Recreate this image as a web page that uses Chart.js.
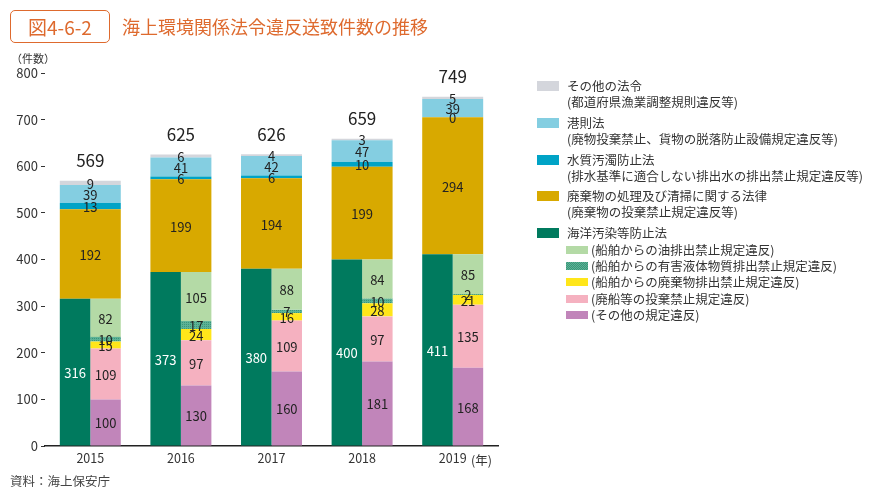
<!DOCTYPE html>
<html lang="ja">
<head>
<meta charset="utf-8">
<script src="https://cdn.jsdelivr.net/npm/chart.js@4/dist/chart.umd.min.js"></script>
<style>
  body { margin: 0; background: #fff; font-family: "Noto Sans CJK JP", "Noto Sans", sans-serif; color: #333; }
  #wrap { position: relative; width: 871px; height: 496px; overflow: hidden; }
  #chart { position: absolute; left: 0; top: 0; }
  .abs { position: absolute; white-space: nowrap; }
  #figBox { left: 10px; top: 10px; width: 98px; height: 31px; border: 1.5px solid #DE6A2E; border-radius: 5px;
    color: #DE6A2E; font-size: 19px; line-height: 31px; text-align: center; }
  #title { left: 122px; top: 14px; color: #DE6A2E; font-size: 18px; line-height: 24px; }
  #unit { left: 11px; top: 50px; font-size: 11px; color: #333; }
  #yearUnit { left: 471px; top: 450px; font-size: 12.5px; color: #333; }
  #source { left: 10px; top: 471px; font-size: 12.5px; color: #444; }
  .lg { position: absolute; font-size: 12.5px; line-height: 16px; color: #333; white-space: nowrap; }
  .sw { position: absolute; }
</style>
</head>
<body>
<div id="wrap">
  <canvas id="chart" width="871" height="496"></canvas>
  <div class="abs" id="figBox">図4-6-2</div>
  <div class="abs" id="title">海上環境関係法令違反送致件数の推移</div>
  <div class="abs" id="unit">（件数）</div>
  <div class="abs" id="yearUnit">(年)</div>
  <div class="abs" id="source">資料：海上保安庁</div>
  <div id="legend"></div>
</div>
<script>
// 年
const years = ["2015", "2016", "2017", "2018", "2019"];

// 法令別（左の積み上げ）
const marinePollution = [316, 373, 380, 400, 411]; // 海洋汚染等防止法
const wasteLaw = [192, 199, 194, 199, 294];        // 廃棄物の処理及び清掃に関する法律
const waterPollution = [13, 6, 6, 10, 0];          // 水質汚濁防止法
const portLaw = [39, 41, 42, 47, 39];              // 港則法
const otherLaws = [9, 6, 4, 3, 5];                 // その他の法令

// 海洋汚染等防止法の内訳（右の積み上げ）
const otherRules = [100, 130, 160, 181, 168];      // その他の規定違反
const shipDumping = [109, 97, 109, 97, 135];       // 廃船等の投棄禁止規定違反
const wasteDischarge = [15, 24, 16, 28, 21];       // 廃棄物排出禁止規定違反
const noxiousLiquid = [10, 17, 7, 10, 2];          // 有害液体物質排出禁止規定違反
const oilDischarge = [82, 105, 88, 84, 85];        // 油排出禁止規定違反

// 合計
const totals = [569, 625, 626, 659, 749];

const yTicks = [0, 100, 200, 300, 400, 500, 600, 700, 800];

const FONT = '"Noto Sans CJK JP", "Noto Sans", sans-serif';

//colours
const cGreen = "#007A5E";
const cGold = "#D8A900";
const cTeal = "#00A3C6";
const cLightBlue = "#84CEE1";
const cGray = "#D4D6DC";
const cOil = "#B4DAA6";
const cYellow = "#FFE61A";
const cPink = "#F5B1C0";
const cPurple = "#C185BA";

//hatched pattern for 有害液体物質
function makeHatch() {
  const c = document.createElement("canvas");
  c.width = 4;
  c.height = 4;
  const g = c.getContext("2d");
  g.fillStyle = "#5DB296";
  g.fillRect(0, 0, 4, 4);
  g.fillStyle = "#3A967A";
  g.fillRect(0, 0, 1, 1);
  g.fillRect(2, 2, 1, 1);
  g.fillRect(2, 0, 1, 1);
  g.fillRect(0, 2, 1, 1);
  return g.createPattern(c, "repeat");
}
const hatch = makeHatch();

//legend (html)
const legendItems = [
  { color: cGray, lines: ["その他の法令", "(都道府県漁業調整規則違反等)"], x: 537, y: 78 },
  { color: cLightBlue, lines: ["港則法", "(廃物投棄禁止、貨物の脱落防止設備規定違反等)"], x: 537, y: 115 },
  { color: cTeal, lines: ["水質汚濁防止法", "(排水基準に適合しない排出水の排出禁止規定違反等)"], x: 537, y: 152 },
  { color: cGold, lines: ["廃棄物の処理及び清掃に関する法律", "(廃棄物の投棄禁止規定違反等)"], x: 537, y: 188 },
  { color: cGreen, lines: ["海洋汚染等防止法"], x: 537, y: 225 },
  { color: cOil, lines: ["(船舶からの油排出禁止規定違反)"], x: 566, y: 242, sub: true },
  { color: "hatch", lines: ["(船舶からの有害液体物質排出禁止規定違反)"], x: 566, y: 258, sub: true },
  { color: cYellow, lines: ["(船舶からの廃棄物排出禁止規定違反)"], x: 566, y: 274, sub: true },
  { color: cPink, lines: ["(廃船等の投棄禁止規定違反)"], x: 566, y: 291, sub: true },
  { color: cPurple, lines: ["(その他の規定違反)"], x: 566, y: 307, sub: true },
];

const legend = document.getElementById("legend");
for (const item of legendItems) {
  const sw = document.createElement("div");
  sw.className = "sw";
  const h = item.sub ? 8 : 10;
  sw.style.left = item.x + "px";
  sw.style.top = item.y + 8 - h / 2 + "px";
  sw.style.width = "22px";
  sw.style.height = h + "px";
  if (item.color === "hatch") {
    sw.style.background = "repeating-conic-gradient(#3A967A 0 25%, #5DB296 0 50%) 0 0 / 2px 2px";
  } else {
    sw.style.background = item.color;
  }
  legend.appendChild(sw);

  const txt = document.createElement("div");
  txt.className = "lg";
  txt.style.left = (item.sub ? 591 : 567) + "px";
  txt.style.top = item.y + "px";
  txt.innerHTML = item.lines.join("<br>");
  legend.appendChild(txt);
}

//labels inside bars + totals
const valueLabels = {
  id: "valueLabels",
  afterDatasetsDraw(chart) {
    const ctx = chart.ctx;
    ctx.save();
    ctx.textAlign = "center";
    ctx.textBaseline = "middle";
    chart.data.datasets.forEach((ds, i) => {
      if (ds.noLabel) return;
      const meta = chart.getDatasetMeta(i);
      meta.data.forEach((bar, j) => {
        const p = bar.getProps(["x", "y", "base"], true);
        ctx.font = "13px " + FONT;
        ctx.fillStyle = ds.labelColor || "#222";
        ctx.fillText(String(ds.data[j]), p.x, (p.y + p.base) / 2 + 1);
      });
    });
    // totals over the top segment
    const topIndex = chart.data.datasets.findIndex((d) => d.isTop);
    const topMeta = chart.getDatasetMeta(topIndex);
    topMeta.data.forEach((bar, j) => {
      const p = bar.getProps(["x", "y"], true);
      ctx.font = "17px " + FONT;
      ctx.fillStyle = "#222";
      ctx.fillText(String(totals[j]), p.x, p.y - 20);
    });
    ctx.restore();
  },
};

const ctx = document.getElementById("chart").getContext("2d");
const chart = new Chart(ctx, {
  type: "bar",
  data: {
    labels: years,
    datasets: [
      // left half
      { label: "海洋汚染等防止法", data: marinePollution, backgroundColor: cGreen, stack: "L", labelColor: "#fff" },
      // right half (内訳)
      { label: "その他の規定違反", data: otherRules, backgroundColor: cPurple, stack: "R" },
      { label: "廃船等の投棄禁止規定違反", data: shipDumping, backgroundColor: cPink, stack: "R" },
      { label: "廃棄物排出禁止規定違反", data: wasteDischarge, backgroundColor: cYellow, stack: "R" },
      { label: "有害液体物質排出禁止規定違反", data: noxiousLiquid, backgroundColor: hatch, stack: "R" },
      { label: "油排出禁止規定違反", data: oilDischarge, backgroundColor: cOil, stack: "R" },
      // upper part, full width
      { label: "base", data: marinePollution, backgroundColor: "rgba(0,0,0,0)", stack: "U", grouped: false, noLabel: true },
      { label: "廃棄物の処理及び清掃に関する法律", data: wasteLaw, backgroundColor: cGold, stack: "U", grouped: false },
      { label: "水質汚濁防止法", data: waterPollution, backgroundColor: cTeal, stack: "U", grouped: false },
      { label: "港則法", data: portLaw, backgroundColor: cLightBlue, stack: "U", grouped: false },
      { label: "その他の法令", data: otherLaws, backgroundColor: cGray, stack: "U", grouped: false, isTop: true },
    ],
  },
  options: {
    responsive: false,
    animation: false,
    devicePixelRatio: 1,
    categoryPercentage: 0.673,
    barPercentage: 1,
    layout: { padding: { top: 73, right: 373, bottom: 0, left: 0 } },
    plugins: {
      legend: { display: false },
      tooltip: { enabled: false },
    },
    scales: {
      x: {
        stacked: true,
        grid: { display: false, drawTicks: false },
        border: { display: true, color: "#222", width: 1.5 },
        ticks: { color: "#333", font: { family: FONT, size: 12.5 }, padding: 5 },
        afterFit(scale) {
          scale.height = 50;
        },
      },
      y: {
        stacked: true,
        min: 0,
        max: 800,
        afterBuildTicks(scale) {
          scale.ticks = yTicks.map((v) => ({ value: v }));
        },
        grid: { display: true, drawOnChartArea: false, drawTicks: true, tickLength: 4, color: "#333" },
        border: { display: false },
        ticks: { color: "#333", font: { family: FONT, size: 13 }, padding: 3 },
        afterFit(scale) {
          scale.width = 45;
        },
      },
    },
  },
  plugins: [valueLabels],
});
</script>
</body>
</html>
